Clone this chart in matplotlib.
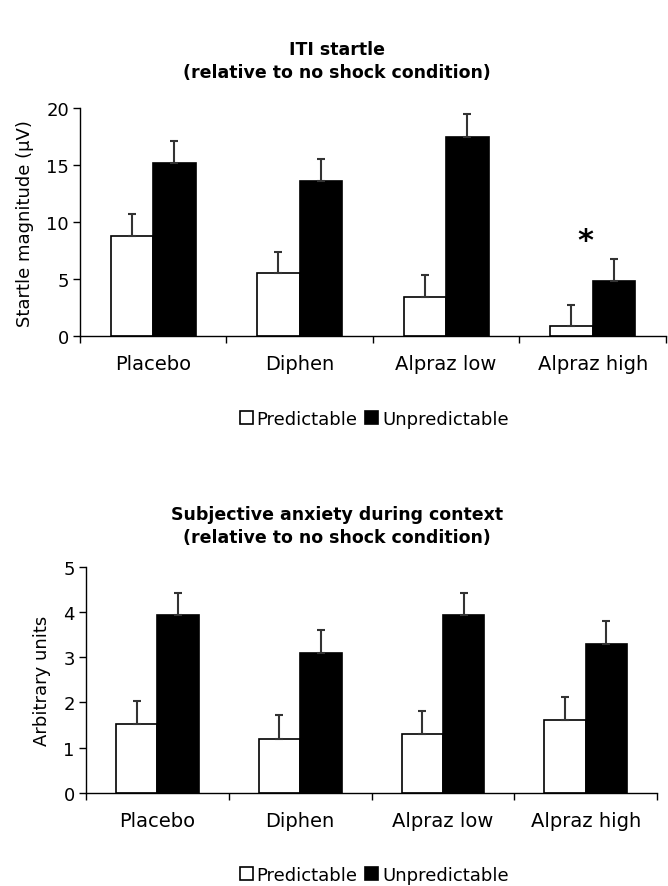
import numpy as np
import matplotlib
matplotlib.use('Agg')
import matplotlib.pyplot as plt
from matplotlib.patches import Patch

plt.rcParams['font.family'] = ['DejaVu Sans']

conditions = ['Placebo', 'Diphen', 'Alpraz low', 'Alpraz high']
series = ['Predictable', 'Unpredictable']

startle_pred = [8.8, 5.5, 3.4, 0.9]
startle_pred_err = [1.95, 1.9, 2.0, 1.8]
startle_unpred = [15.2, 13.6, 17.5, 4.8]
startle_unpred_err = [1.9, 1.9, 1.95, 1.95]

anxiety_pred = [1.52, 1.2, 1.3, 1.62]
anxiety_pred_err = [0.5, 0.52, 0.5, 0.5]
anxiety_unpred = [3.93, 3.1, 3.93, 3.29]
anxiety_unpred_err = [0.49, 0.51, 0.49, 0.52]


def draw_panel(ax, pred, pred_err, unpred, unpred_err, ylim, yticks, ylabel):
    x = np.arange(len(conditions))
    w = 0.29
    ax.bar(x - w / 2, pred, w, color='white', edgecolor='black', linewidth=1.2,
           yerr=[np.zeros(len(pred)), pred_err], capsize=3,
           error_kw=dict(ecolor='#333333', elinewidth=1.5, capthick=1.5))
    ax.bar(x + w / 2, unpred, w, color='black', edgecolor='black', linewidth=1.2,
           yerr=[np.zeros(len(unpred)), unpred_err], capsize=3,
           error_kw=dict(ecolor='#333333', elinewidth=1.5, capthick=1.5))
    ax.set_xlim(-0.5, len(conditions) - 0.5)
    ax.set_ylim(*ylim)
    ax.set_yticks(yticks)
    ax.set_xticks(np.arange(len(conditions) + 1) - 0.5)
    ax.set_xticklabels([])
    ax.set_xticks(x, minor=True)
    ax.set_xticklabels(conditions, minor=True, fontsize=14)
    ax.tick_params(axis='x', which='minor', length=0, pad=13)
    ax.tick_params(axis='x', which='major', length=5, width=1, direction='out')
    ax.tick_params(axis='y', length=5, width=1, labelsize=13, pad=3)
    ax.spines['top'].set_visible(False)
    ax.spines['right'].set_visible(False)
    ax.spines['left'].set_linewidth(1)
    ax.spines['bottom'].set_linewidth(1)
    ax.set_ylabel(ylabel, fontsize=13, labelpad=9)


fig = plt.figure(figsize=(6.68, 8.87), dpi=100)

ax1 = fig.add_axes([0.1198, 0.620, 0.877, 0.257])
draw_panel(ax1, startle_pred, startle_pred_err, startle_unpred, startle_unpred_err,
           (0, 20), [0, 5, 10, 15, 20], 'Startle magnitude (\u00b5V)')
ax1.text(3 - 0.05, 8.4, '*', ha='center', va='center', fontsize=22, fontweight='bold')

ax2 = fig.add_axes([0.1287, 0.105, 0.855, 0.255])
draw_panel(ax2, anxiety_pred, anxiety_pred_err, anxiety_unpred, anxiety_unpred_err,
           (0, 5), [0, 1, 2, 3, 4, 5], 'Arbitrary units')

title_kw = dict(ha='center', va='center', fontsize=12.5, fontweight='bold',
                family='DejaVu Sans')
fig.text(0.504, 1 - 50 / 887, 'ITI startle', **title_kw)
fig.text(0.504, 1 - 73 / 887, '(relative to no shock condition)', **title_kw)
fig.text(0.504, 1 - 515 / 887, 'Subjective anxiety during context', **title_kw)
fig.text(0.504, 1 - 538 / 887, '(relative to no shock condition)', **title_kw)

handles = [Patch(facecolor='white', edgecolor='black', linewidth=1.2),
           Patch(facecolor='black', edgecolor='black', linewidth=1.2)]
for yc in [1 - 420 / 887, 1 - 876 / 887]:
    fig.legend(handles, series, loc='center', bbox_to_anchor=(0.56, yc), ncol=2,
               frameon=False, fontsize=13, handlelength=0.75, handleheight=0.75,
               handletextpad=0.2, columnspacing=0.4, borderpad=0)

fig.savefig('out.png', dpi=100)
